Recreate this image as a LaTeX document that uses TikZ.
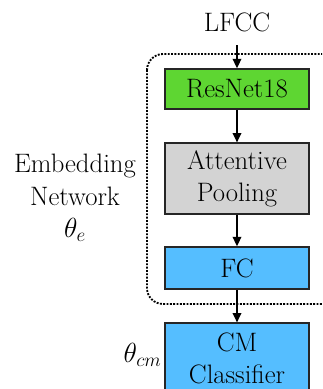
\documentclass[tikz,border=0pt]{standalone}
\usetikzlibrary{arrows.meta}

\definecolor{resgreen}{RGB}{94,214,50}
\definecolor{poolgray}{RGB}{211,211,211}
\definecolor{fcblue}{RGB}{85,190,255}

\tikzset{every picture/.style={line width=0.75pt}}
\tikzset{
  block/.style={draw=black!85, line width=1.2pt, minimum width=108pt, inner sep=0.75pt, align=center, font=\fontsize{20}{24}\selectfont},
  flow/.style={-{Triangle[length=7pt,width=6.5pt]}, line width=1pt},
  txtlabel/.style={inner sep=0.75pt, align=center, font=\fontsize{20}{24}\selectfont}
}

\begin{document}
\begin{tikzpicture}[x=0.75pt,y=0.75pt,yscale=-1,xscale=1]
\useasboundingbox (0,0) rectangle (322,389);
\clip (0,0) rectangle (322,389);

% Dotted frame round the embedding network
\draw [line width=1.4pt, dash pattern=on 1.4pt off 1.1pt, rounded corners=12pt] (147,54) rectangle (340,304);

% Blocks
\node [block, fill=resgreen, minimum height=30pt] (resnet) at (237,89) {ResNet18};
\node [block, fill=poolgray, minimum height=53pt] (pool) at (237,178.5) {Attentive\\Pooling};
\node [block, fill=fcblue, minimum height=31.5pt] (fc) at (237,268) {FC};
\node [block, fill=fcblue, minimum height=53pt] (cm) at (237,358.5) {CM\\Classifier};

% Text Node
\node [txtlabel] (lfcc) at (237,22) {LFCC};
% Text Node
\node [txtlabel, font=\fontsize{20}{24.5}\selectfont] (embed) at (75,198) {Embedding\\Network\\$\theta_e$};
% Text Node
\node [txtlabel, anchor=east] (thcm) at (163,355) {$\theta_{cm}$};

% Arrows
\coordinate (in) at (237,45);
\draw [flow] (in) -- (resnet.north);
\draw [flow] (resnet) -- (pool);
\draw [flow] (pool) -- (fc);
\draw [flow] (fc) -- (cm);

\end{tikzpicture}
\end{document}
